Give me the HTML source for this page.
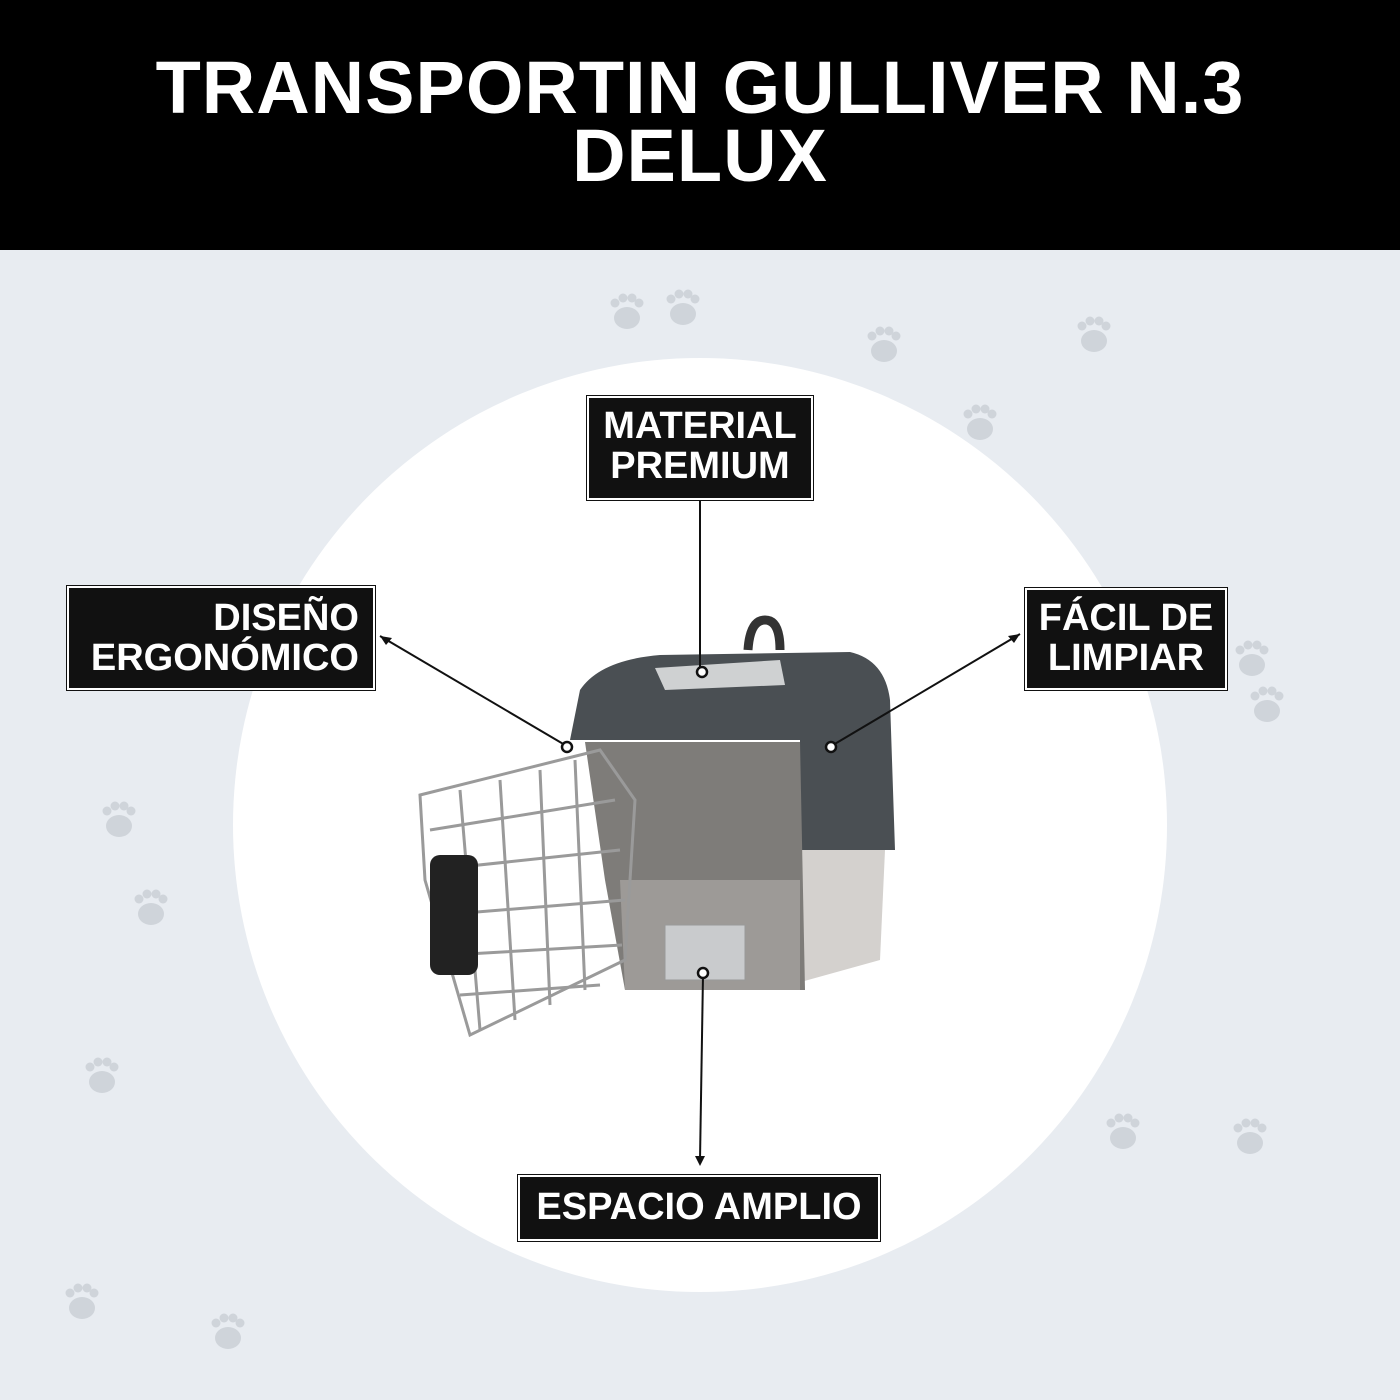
<!DOCTYPE html>
<html><head><meta charset="utf-8"><style>
html,body{margin:0;padding:0}
body{width:1400px;height:1400px;position:relative;overflow:hidden;background:#e8ecf1;font-family:"Liberation Sans","DejaVu Sans",sans-serif}
.hdr{position:absolute;left:0;top:0;width:1400px;height:250px;background:#000;color:#fff;text-align:center;font-weight:bold;font-size:74px;line-height:68px;padding-top:54px;box-sizing:border-box;letter-spacing:1px}
.circle{position:absolute;left:233px;top:358px;width:934px;height:934px;border-radius:50%;background:#fff}
.lbl{position:absolute;background:#111;color:#fff;font-weight:bold;font-size:38px;line-height:40px;border:2px solid #fff;outline:1px solid #111;box-sizing:border-box;padding:6px 0;white-space:nowrap}
svg{position:absolute;left:0;top:0}
</style></head><body>
<div class="hdr">TRANSPORTIN GULLIVER N.3<br>DELUX</div>
<svg width="1400" height="1400">
<defs><g id="p"><ellipse cx="0" cy="8" rx="13" ry="11"/><circle cx="-12" cy="-7" r="4.5"/><circle cx="-4" cy="-12" r="4.5"/><circle cx="5" cy="-12" r="4.5"/><circle cx="12" cy="-7" r="4.5"/></g></defs>
<g fill="#cfd4da">
<use href="#p" x="627" y="310"/><use href="#p" x="683" y="306"/><use href="#p" x="884" y="343"/>
<use href="#p" x="1094" y="333"/><use href="#p" x="980" y="421"/><use href="#p" x="1252" y="657"/>
<use href="#p" x="1267" y="703"/><use href="#p" x="119" y="818"/><use href="#p" x="151" y="906"/>
<use href="#p" x="102" y="1074"/><use href="#p" x="1123" y="1130"/><use href="#p" x="1250" y="1135"/>
<use href="#p" x="82" y="1300"/><use href="#p" x="228" y="1330"/>
</g>
</svg>
<div class="circle"></div>
<svg width="1400" height="1400">
<path d="M748 650 Q750 620 765 620 Q780 620 780 650" fill="none" stroke="#333" stroke-width="9"/>
<path d="M620 878 L625 985 L790 985 L880 960 L885 850 L800 850 Z" fill="#d4d1ce"/>
<path d="M570 740 L580 690 Q600 660 660 655 L850 652 Q885 660 890 700 L895 850 L800 850 L800 740 Z" fill="#4a4f53"/>
<path d="M585 742 L800 742 L805 990 L625 990 L605 880 Z" fill="#7e7c79"/>
<path d="M620 880 L800 880 L800 990 L625 990 Z" fill="#9d9a97"/>
<rect x="665" y="925" width="80" height="55" fill="#c9cbcd" stroke="#999"/>
<path d="M655 668 L780 660 L785 685 L665 690 Z" fill="#cfd1d2"/>
<g stroke="#9a9a9a" stroke-width="3" fill="none">
<path d="M420 795 L600 750 L635 800 L625 960 L470 1035 L425 880 Z"/>
<path d="M430 830 L615 800 M432 870 L620 850 M440 915 L625 900 M450 955 L622 945 M460 995 L600 985"/>
<path d="M460 790 L480 1030 M500 780 L515 1020 M540 770 L550 1005 M575 760 L585 990"/>
</g>
<rect x="430" y="855" width="48" height="120" rx="10" fill="#222"/>
<g stroke="#111" stroke-width="2" fill="none">
<line x1="700" y1="500" x2="700" y2="670"/>
<line x1="380" y1="636" x2="565" y2="745"/>
<line x1="1020" y1="634" x2="833" y2="745"/>
<line x1="703" y1="975" x2="700" y2="1160"/>
</g>
<g fill="#fff" stroke="#111" stroke-width="2.5">
<circle cx="702" cy="672" r="5"/><circle cx="567" cy="747" r="5"/><circle cx="831" cy="747" r="5"/><circle cx="703" cy="973" r="5"/>
</g>
<path d="M380 636 l12 2 l-6 7 Z M1020 634 l-12 2 l6 7 Z M700 1166 l-5 -10 l10 0 Z" fill="#111"/>
</svg>
<div class="lbl" style="left:587px;top:396px;width:226px;height:104px;text-align:center;padding-top:8px">MATERIAL<br>PREMIUM</div>
<div class="lbl" style="left:67px;top:586px;width:308px;height:104px;text-align:right;padding:10px 14px 0 0">DISEÑO<br>ERGONÓMICO</div>
<div class="lbl" style="left:1025px;top:588px;width:202px;height:102px;text-align:center;padding-top:8px">FÁCIL DE<br>LIMPIAR</div>
<div class="lbl" style="left:518px;top:1175px;width:362px;height:66px;text-align:center;padding-top:10px">ESPACIO AMPLIO</div>
</body></html>
